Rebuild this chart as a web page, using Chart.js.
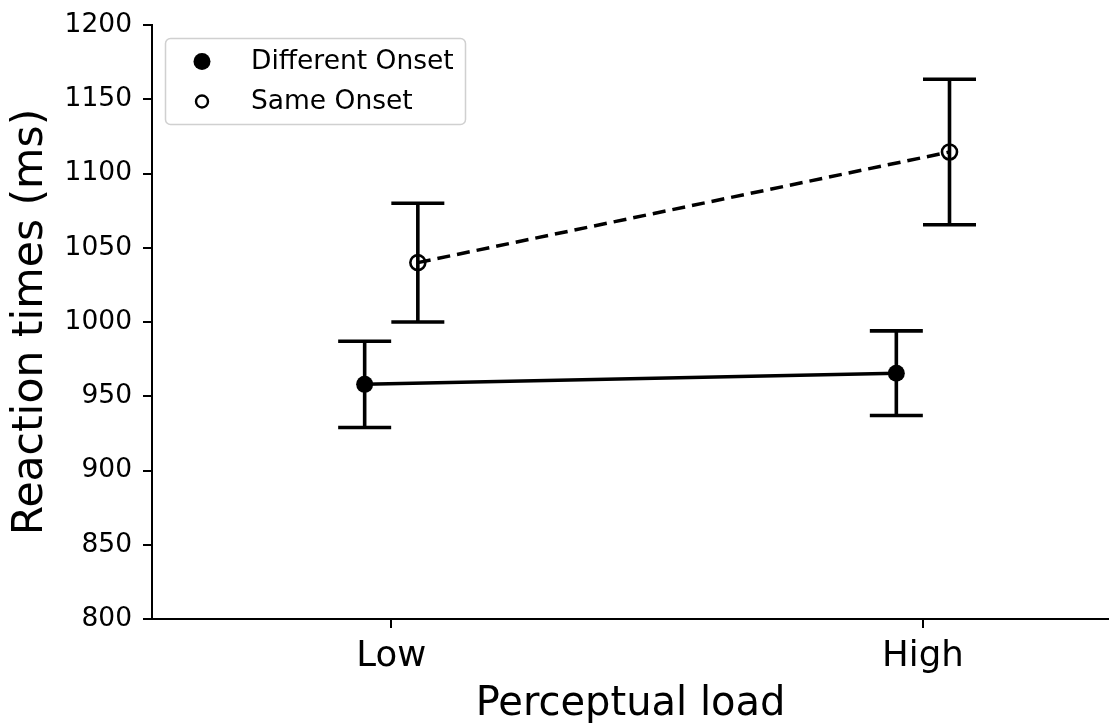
<!DOCTYPE html>
<html><head><meta charset="utf-8">
<script src="https://cdn.jsdelivr.net/npm/chart.js@4.4.1/dist/chart.umd.min.js"></script>
<style>html,body{margin:0;padding:0;background:#fff;overflow:hidden;}#wrap{width:1109px;height:723px;}</style>
</head><body><div id="wrap"><canvas id="c" width="1109" height="723"></canvas></div>
<script>
// ---- data ----
const categories = ['Low', 'High'];
const seriesNames = ['Different Onset', 'Same Onset'];
const differentOnsetMeans = [958, 965.5];
const differentOnsetErrors = [29, 28.5];
const sameOnsetMeans = [1040, 1114.5];
const sameOnsetErrors = [40, 49];
const yTickValues = [800, 850, 900, 950, 1000, 1050, 1100, 1150, 1200];
const xTitle = 'Perceptual load';
const yTitle = 'Reaction times (ms)';

// ---- styling / layout ----
const DODGE = 0.05;
const FONT = 'DejaVu Sans';
const toPoints = (means, shift) => means.map((m, i) => ({x: i + shift, y: m}));

// stretch the plot area to the right edge of the canvas (matplotlib-style crop)
const stretchPlugin = {
  id: 'stretchRight',
  afterLayout(chart) {
    const x = chart.scales.x;
    const R = chart.width;
    const d = R - chart.chartArea.right;
    if (d > 0) {
      chart.chartArea.right = R;
      chart.chartArea.width = chart.chartArea.right - chart.chartArea.left;
      x.right = R;
      x.width = x.right - x.left;
      x.configure();
    }
  }
};

const errorBarPlugin = {
  id: 'errorBars',
  beforeDatasetsDraw(chart) {
    const {ctx, scales: {x, y}} = chart;
    const errs = [differentOnsetErrors, sameOnsetErrors];
    chart.data.datasets.forEach((ds, di) => {
      ds.data.forEach((p, i) => {
        const px = x.getPixelForValue(p.x);
        const top = y.getPixelForValue(p.y + errs[di][i]);
        const bot = y.getPixelForValue(p.y - errs[di][i]);
        ctx.save();
        ctx.strokeStyle = '#000';
        ctx.lineWidth = 3.6;
        ctx.beginPath();
        ctx.moveTo(px, top); ctx.lineTo(px, bot);
        ctx.moveTo(px - 26.5, top); ctx.lineTo(px + 26.5, top);
        ctx.moveTo(px - 26.5, bot); ctx.lineTo(px + 26.5, bot);
        ctx.stroke();
        ctx.restore();
      });
    });
  }
};

const legendPlugin = {
  id: 'customLegend',
  afterDraw(chart) {
    const ctx = chart.ctx;
    ctx.save();
    const bx = 165.5, by = 38.5, bw = 300, bh = 86, r = 5;
    ctx.beginPath();
    ctx.roundRect(bx, by, bw, bh, r);
    ctx.fillStyle = 'rgba(255,255,255,0.8)';
    ctx.fill();
    ctx.strokeStyle = '#d0d0d0';
    ctx.lineWidth = 1.5;
    ctx.stroke();
    ctx.fillStyle = '#000';
    ctx.beginPath(); ctx.arc(202, 61.5, 8.5, 0, Math.PI * 2); ctx.fill();
    ctx.strokeStyle = '#000'; ctx.lineWidth = 2.4;
    ctx.beginPath(); ctx.arc(202, 101.5, 6, 0, Math.PI * 2); ctx.stroke();
    ctx.font = '26.5px "' + FONT + '"';
    ctx.textBaseline = 'alphabetic';
    ctx.textAlign = 'left';
    ctx.fillStyle = '#000';
    ctx.fillText(seriesNames[0], 251, 69);
    ctx.fillText(seriesNames[1], 251, 109);
    ctx.restore();
  }
};

new Chart(document.getElementById('c'), {
  type: 'scatter',
  data: {
    datasets: [
      {
        label: seriesNames[0],
        data: toPoints(differentOnsetMeans, -DODGE),
        showLine: true,
        borderColor: '#000',
        borderWidth: 3.5,
        backgroundColor: '#000',
        pointBackgroundColor: '#000',
        pointBorderColor: '#000',
        pointRadius: 8.5,
        pointBorderWidth: 0,
        pointHoverRadius: 8.5
      },
      {
        label: seriesNames[1],
        data: toPoints(sameOnsetMeans, DODGE),
        showLine: true,
        borderColor: '#000',
        borderWidth: 3.5,
        borderDash: [13, 7],
        backgroundColor: 'rgba(0,0,0,0)',
        pointBackgroundColor: 'rgba(0,0,0,0)',
        pointBorderColor: '#000',
        pointRadius: 7.5,
        pointBorderWidth: 2.6,
        pointHoverRadius: 7.5
      }
    ]
  },
  options: {
    responsive: false,
    animation: false,
    devicePixelRatio: 1,
    layout: {padding: {top: 25, right: 0, bottom: 0, left: 0}},
    plugins: {legend: {display: false}, tooltip: {enabled: false}},
    scales: {
      x: {
        type: 'linear',
        min: -0.45,
        max: 1.35,
        afterBuildTicks: (s) => { s.ticks = categories.map((c, i) => ({value: i})); },
        afterFit: (s) => { s.height = 104; s.paddingLeft = 0; s.paddingRight = 0; },
        ticks: {
          callback: (v) => categories[v] !== undefined ? categories[v] : '',
          color: '#000',
          font: {family: FONT, size: 35.5},
          padding: 7,
          maxRotation: 0,
          autoSkip: false
        },
        grid: {display: true, drawOnChartArea: false, drawTicks: true, tickLength: 9, color: '#000', lineWidth: 2},
        border: {display: true, color: '#000', width: 2},
        title: {display: true, text: xTitle, color: '#000', font: {family: FONT, size: 40}, padding: {top: 0, bottom: -6}}
      },
      y: {
        type: 'linear',
        min: 800,
        max: 1200,
        afterBuildTicks: (s) => { s.ticks = yTickValues.map(v => ({value: v})); },
        afterFit: (s) => { s.width = 152; s.paddingTop = 0; s.paddingBottom = 0; },
        ticks: {
          callback: (v) => String(v),
          color: '#000',
          font: {family: FONT, size: 26.5},
          padding: 11
        },
        grid: {display: true, drawOnChartArea: false, drawTicks: true, tickLength: 9, color: '#000', lineWidth: 2},
        border: {display: true, color: '#000', width: 2},
        title: {display: true, text: yTitle, color: '#000', font: {family: FONT, size: 42.5}, padding: {top: 5, bottom: 0}}
      }
    }
  },
  plugins: [stretchPlugin, errorBarPlugin, legendPlugin]
});
</script>
</body></html>
